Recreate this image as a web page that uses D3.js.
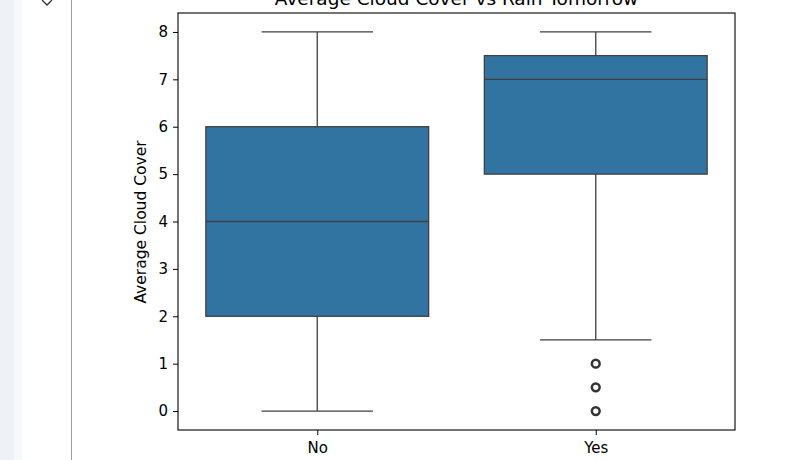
<!DOCTYPE html>
<html><head><meta charset="utf-8">
<script src="https://cdn.jsdelivr.net/npm/d3@7"></script>
<style>body{margin:0;background:#fff;}svg{display:block;font-family:"DejaVu Sans",sans-serif;}</style>
</head><body>
<svg id="c" width="800" height="460"></svg>
<script>
const categories = ["No", "Yes"];
const whiskerLow = [0, 1.5];
const q1 = [2, 5];
const medians = [4, 7];
const q3 = [6, 7.5];
const whiskerHigh = [8, 8];
const outliers = [[], [1, 0.5, 0]];
const yTicks = [0, 1, 2, 3, 4, 5, 6, 7, 8];
const title = "Average Cloud Cover vs Rain Tomorrow";
const yLabel = "Average Cloud Cover";

const svg = d3.select("#c");
// notebook chrome
svg.append("rect").attr("x",0).attr("y",0).attr("width",14).attr("height",460).attr("fill","#eef1f6");
svg.append("rect").attr("x",14).attr("y",0).attr("width",8).attr("height",460).attr("fill","#f6f8fb");
svg.append("line").attr("x1",71.5).attr("x2",71.5).attr("y1",0).attr("y2",460).attr("stroke","#9e9e9e").attr("stroke-width",1);
svg.append("path").attr("d","M42,0 L47,5 L52,0").attr("fill","none").attr("stroke","#333").attr("stroke-width",1.3);

const L=178, R=735, T=13, B=430;
const x = d3.scaleLinear().domain([-0.5,1.5]).range([L,R]);
const y = d3.scaleLinear().domain([-0.4,8.4]).range([B,T]);
const edge="#3f3f3f", fill="#3274a1";

const g = svg.append("g");
categories.forEach((c,i)=>{
  const cx = x(i), bw = x(0.4)-x(0), cw = x(0.2)-x(0);
  g.append("line").attr("x1",cx).attr("x2",cx).attr("y1",y(whiskerLow[i])).attr("y2",y(q1[i])).attr("stroke",edge).attr("stroke-width",1.3);
  g.append("line").attr("x1",cx).attr("x2",cx).attr("y1",y(q3[i])).attr("y2",y(whiskerHigh[i])).attr("stroke",edge).attr("stroke-width",1.3);
  g.append("line").attr("x1",cx-cw).attr("x2",cx+cw).attr("y1",y(whiskerLow[i])).attr("y2",y(whiskerLow[i])).attr("stroke",edge).attr("stroke-width",1.3);
  g.append("line").attr("x1",cx-cw).attr("x2",cx+cw).attr("y1",y(whiskerHigh[i])).attr("y2",y(whiskerHigh[i])).attr("stroke",edge).attr("stroke-width",1.3);
  g.append("rect").attr("x",cx-bw).attr("width",2*bw).attr("y",y(q3[i])).attr("height",y(q1[i])-y(q3[i]))
    .attr("fill",fill).attr("stroke",edge).attr("stroke-width",1.3);
  g.append("line").attr("x1",cx-bw).attr("x2",cx+bw).attr("y1",y(medians[i])).attr("y2",y(medians[i])).attr("stroke",edge).attr("stroke-width",1.3);
  outliers[i].forEach(v=>{
    g.append("circle").attr("cx",cx).attr("cy",y(v)).attr("r",3.9).attr("fill","none").attr("stroke","#333").attr("stroke-width",2.5);
  });
});

const ya = svg.append("g").attr("transform",`translate(${L},0)`).call(d3.axisLeft(y).tickValues(yTicks).tickSize(5).tickPadding(5).tickFormat(d3.format("d")));
const xa = svg.append("g").attr("transform",`translate(0,${B})`).call(d3.axisBottom(x).tickValues([0,1]).tickSize(5).tickPadding(7).tickFormat(i=>categories[i]));
[ya,xa].forEach(a=>{a.select(".domain").remove();a.selectAll("text").attr("font-size",15).attr("font-family","DejaVu Sans").attr("fill","#000");a.selectAll("line").attr("stroke","#000").attr("stroke-width",1);});
svg.append("rect").attr("x",L).attr("y",T).attr("width",R-L).attr("height",B-T).attr("fill","none").attr("stroke","#000").attr("stroke-width",1.1);

svg.append("text").attr("x",(L+R)/2).attr("y",5).attr("text-anchor","middle").attr("font-size",18.5).attr("fill","#000").text(title);
svg.append("text").attr("transform",`translate(146,${(T+B)/2+0.5}) rotate(-90)`).attr("text-anchor","middle").attr("font-size",15.5).attr("fill","#000").text(yLabel);
</script>
</body></html>
